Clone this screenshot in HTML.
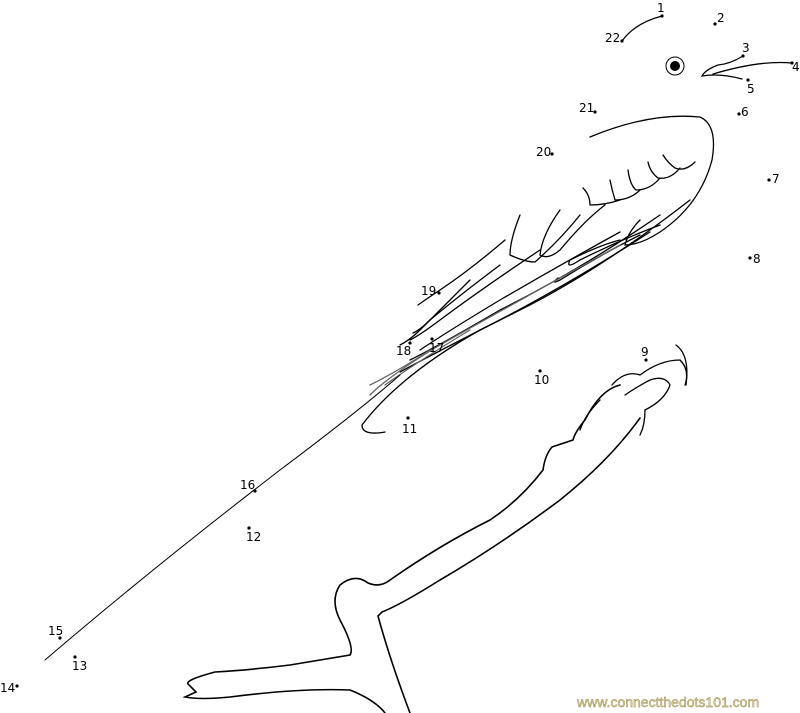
<!DOCTYPE html>
<html><head><meta charset="utf-8"><style>
html,body{margin:0;padding:0;background:#fff}
svg{display:block}
text{font-family:"DejaVu Sans","Liberation Sans",sans-serif;font-size:12px;fill:#000}
</style></head><body>
<svg width="800" height="713" viewBox="0 0 800 713" xmlns="http://www.w3.org/2000/svg">
<g fill="none" stroke="#000" stroke-width="1.3" stroke-linecap="round">
<!-- head line 22-1 -->
<path d="M622 41 Q635 23 662 16"/>
<!-- eye -->
<circle cx="675" cy="66" r="9" stroke-width="1"/>
<circle cx="675" cy="66" r="5" fill="#000" stroke="none"/>
<!-- beak -->
<path d="M743 56 Q730 64 718 65 Q705 70 702 76 Q720 73 742 79"/>
<path d="M713 74 Q760 60 792 63"/>
<!-- wing outline -->
<path d="M590 137 Q650 112 700 117 Q718 125 712 160 Q700 205 660 232 Q640 245 625 245 Q628 232 640 220"/>
<!-- scallops -->
<path d="M695 162 Q685 172 675 168 Q668 163 663 155"/>
<path d="M680 168 Q670 180 658 178 Q650 172 648 162"/>
<path d="M660 178 Q650 190 636 190 Q630 185 628 170"/>
<path d="M640 190 Q630 200 615 200 Q612 190 610 180"/>
<path d="M620 200 Q605 205 590 205 Q590 195 583 188"/>
<path d="M605 205 Q585 220 560 250 Q548 260 540 255 Q542 235 560 210"/>
<path d="M580 215 Q560 240 535 262 Q525 262 510 255 Q510 240 520 215"/>
<path d="M660 225 Q620 240 580 260 Q565 270 570 260 Q600 245 620 240"/>
<path d="M640 235 Q600 255 560 280 Q550 285 558 278"/>
<!-- long feathers -->
<path d="M690 200 Q600 270 520 310 Q450 345 400 372"/>
<path d="M660 215 Q580 270 500 310 Q440 345 410 360"/>
<path d="M620 232 Q560 265 500 300 Q450 330 420 350"/>
<path d="M540 250 Q480 290 440 320 Q420 335 410 340"/>
<path d="M505 240 Q470 270 440 290 Q425 300 418 305"/>
<path d="M500 265 Q460 295 430 320 Q420 330 413 333"/>
<path d="M470 280 Q440 310 420 330 Q410 340 400 345"/>
<!-- tail -->
<path d="M650 232 Q560 290 480 330 Q400 375 362 425 Q362 436 385 432"/>
<path d="M620 245 Q520 300 440 345 Q390 375 370 395" stroke="#666"/>
<path d="M470 330 Q420 360 385 385" stroke="#666"/>
<path d="M430 350 Q400 370 370 385" stroke="#666"/>
<path d="M400 375 Q360 410 280 470 Q150 570 45 660" stroke-width="1"/>
<!-- feet -->
<path d="M612 385 Q625 370 640 375 Q660 360 680 360 Q690 370 685 385"/>
<path d="M625 395 Q640 385 650 380 Q665 375 670 385 Q665 400 645 410 Q645 425 640 435"/>
<path d="M676 345 Q690 355 686 385"/>
<path d="M600 400 Q585 415 580 430"/>
<!-- branch -->
<path d="M620 385 Q600 390 585 420 Q575 432 573 440 L552 447 Q545 455 543 470 Q520 500 490 520 Q440 545 390 580 Q380 588 368 583 Q355 573 340 585 Q330 600 340 620 Q355 648 350 655 Q320 660 290 665 Q250 670 215 672 Q185 680 188 684 L196 692 L185 697 Q200 700 230 697 Q300 688 350 690 Q375 700 385 713" stroke-width="1.6"/>
<path d="M640 418 Q610 460 560 500 Q500 545 440 580 Q400 605 382 612 L378 616 Q390 660 410 713" stroke-width="1.6"/>
</g>
<g fill="#000">
<circle cx="662" cy="16" r="1.6"/><circle cx="715" cy="24" r="1.6"/><circle cx="743" cy="56" r="1.6"/><circle cx="792" cy="63" r="1.6"/><circle cx="748" cy="80" r="1.6"/><circle cx="739" cy="114" r="1.6"/><circle cx="769" cy="180" r="1.6"/><circle cx="750" cy="258" r="1.6"/><circle cx="646" cy="360" r="1.6"/><circle cx="540" cy="371" r="1.6"/><circle cx="408" cy="418" r="1.6"/><circle cx="249" cy="528" r="1.6"/><circle cx="75" cy="657" r="1.6"/><circle cx="17" cy="686" r="1.6"/><circle cx="60" cy="638" r="1.6"/><circle cx="255" cy="491" r="1.6"/><circle cx="432" cy="339" r="1.6"/><circle cx="410" cy="343" r="1.6"/><circle cx="439" cy="293" r="1.6"/><circle cx="552" cy="154" r="1.6"/><circle cx="595" cy="112" r="1.6"/><circle cx="622" cy="41" r="1.6"/>
</g>
<text x="657" y="12">1</text><text x="717" y="22">2</text><text x="742" y="52">3</text><text x="792" y="71">4</text><text x="747" y="93">5</text><text x="741" y="116">6</text><text x="772" y="183">7</text><text x="753" y="263">8</text><text x="641" y="356">9</text><text x="534" y="384">10</text><text x="402" y="433">11</text><text x="246" y="541">12</text><text x="72" y="670">13</text><text x="0" y="692">14</text><text x="48" y="635">15</text><text x="240" y="489">16</text><text x="429" y="352">17</text><text x="396" y="355">18</text><text x="421" y="295">19</text><text x="536" y="156">20</text><text x="579" y="112">21</text><text x="605" y="42">22</text>
<text x="577" y="707" style="font-family:'Liberation Sans',sans-serif;font-size:14px;fill:#e8d9a0;stroke:#8a7a40;stroke-width:0.4">www.connectthedots101.com</text>
</svg>
</body></html>
